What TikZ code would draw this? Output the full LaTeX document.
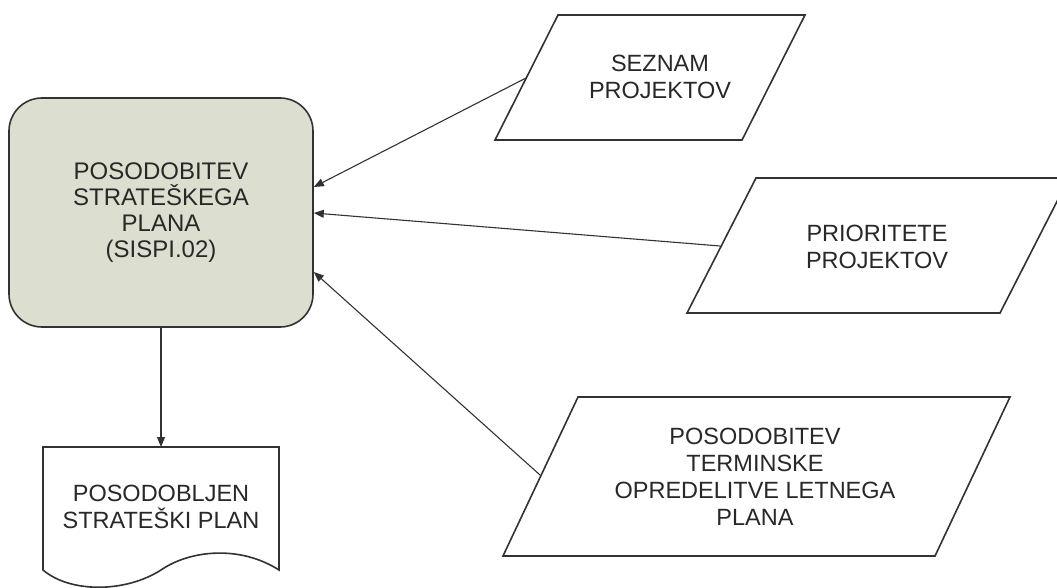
\documentclass[tikz,border=0pt]{standalone}
\usepackage{fontspec}
\setmainfont{Liberation Sans}
\usetikzlibrary{arrows.meta}
\definecolor{boxfill}{RGB}{220,223,207}
\definecolor{edge}{RGB}{50,50,50}
\definecolor{ink}{RGB}{40,40,40}
\begin{document}
\begin{tikzpicture}[x=1pt,y=-1pt,
  lbl/.style={align=center,text=ink,font=\fontsize{23.5}{27}\selectfont,inner sep=0pt},
  shapeline/.style={draw=edge,line width=1.6pt},
  flow/.style={draw=edge,line width=1.1pt,-{Triangle[length=10pt,width=8pt]}}]
\useasboundingbox (0,0) rectangle (1057,588);

% process box
\node[shapeline,fill=boxfill,rounded corners=33pt,minimum width=304pt,minimum height=229pt,
      lbl,font=\fontsize{24}{26}\selectfont] (proc) at (161,212.5)
  {POSODOBITEV\\STRATEŠKEGA\\PLANA\\(SISPI.02)};

% input parallelograms
\coordinate (s1) at (526,78);
\draw[shapeline,fill=white] (558,15) -- (805,15) -- (742,140) -- (495,140) -- cycle;
\node[lbl] (seznam) at (660,77) {SEZNAM\\PROJEKTOV};

\coordinate (s2) at (720,246);
\draw[shapeline,fill=white] (756,178) -- (1069,178) -- (1000,313) -- (687,313) -- cycle;
\node[lbl] (prior) at (877,247) {PRIORITETE\\PROJEKTOV};

\coordinate (s3) at (540,475);
\draw[shapeline,fill=white] (578,397) -- (1010,397) -- (935,556) -- (503,556) -- cycle;
\node[lbl] (termin) at (755,477) {POSODOBITEV\\TERMINSKE\\OPREDELITVE LETNEGA\\PLANA};

% output document
\draw[shapeline,fill=white] (43,447) -- (279,447) -- (279,570)
  .. controls (240,545) and (190,550) .. (161,570)
  .. controls (125,593) and (70,593) .. (43,570) -- cycle;
\coordinate (docTop) at (161,447);
\node[lbl] (doc) at (161,507) {POSODOBLJEN\\STRATEŠKI PLAN};

% connectors
\coordinate (t1) at (proc.east |- 0,187);
\coordinate (t2) at (proc.east |- 0,213);
\coordinate (t3) at (proc.east |- 0,272);
\draw[flow] (s1) -- (t1);
\draw[flow] (s2) -- (t2);
\draw[flow] (s3) -- (t3);
\draw[flow] (proc.south) -- (docTop);
\end{tikzpicture}
\end{document}
